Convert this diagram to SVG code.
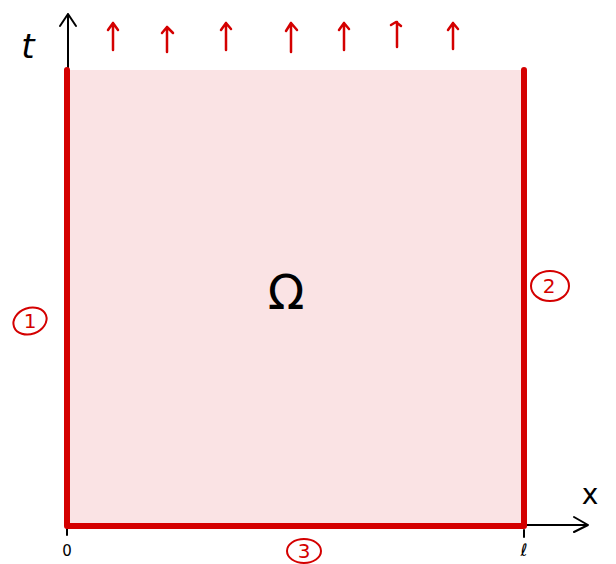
<svg xmlns="http://www.w3.org/2000/svg" width="616" height="564" viewBox="0 0 616 564">
<style>
.red{stroke:#d40000;fill:none;stroke-linecap:round;stroke-linejoin:round}
.blk{stroke:#000;fill:none;stroke-width:2;stroke-linecap:round;stroke-linejoin:round}
.lbl{font-family:"DejaVu Sans",sans-serif;fill:#000}
.rlbl{font-family:"DejaVu Sans",sans-serif;fill:#d40000;font-size:20px;text-anchor:middle}
</style>
<rect id="domain" x="67" y="70" width="457" height="456" fill="#fae3e4"/>
<g id="axes">
<path class="blk" d="M68 70 V14 M60 26 L68 14 L76 26"/>
<path class="blk" d="M524 525 H588 M574 517 L588 525 L574 532"/>
<path class="blk" d="M67 529 V535 M524 530 V537"/>
</g>
<g id="boundary">
<path class="red" stroke-width="6" d="M67 70 V526 H524 V70"/>
</g>
<g id="top-arrows" class="red" stroke-width="2.5">
<path d="M113 50 V23 M108 30 L113 23 L118 30"/>
<path d="M167 52 V27 M162 33 L167 27 L173 33"/>
<path d="M226 50 V23 M221 30 L226 23 L231 29"/>
<path d="M291 52 V23 M286 31 L291 23 L297 30"/>
<path d="M344 50 V23 M339 30 L344 23 L349 29"/>
<path d="M397 47 V22 M391 25 L396 22 L401 26"/>
<path d="M453 49 V23 M448 30 L453 23 L458 29"/>
</g>
<g id="labels">
<text class="lbl" x="28" y="58" font-size="34" font-style="italic" text-anchor="middle">t</text>
<text class="lbl" x="590" y="504" font-size="28" text-anchor="middle">x</text>
<text class="lbl" x="286" y="309" font-size="48" text-anchor="middle">Ω</text>
<text class="lbl" x="67" y="556" font-size="15" text-anchor="middle">0</text>
<text class="lbl" x="524" y="556" font-size="17" font-style="italic" text-anchor="middle">ℓ</text>
</g>
<g id="bc1">
<ellipse class="red" stroke-width="2" cx="30" cy="321" rx="17" ry="13" transform="rotate(-20 30 321)"/>
<text class="rlbl" x="30" y="328">1</text>
</g>
<g id="bc2">
<ellipse class="red" stroke-width="2" cx="550" cy="286" rx="19" ry="15"/>
<text class="rlbl" x="549" y="293">2</text>
</g>
<g id="bc3">
<ellipse class="red" stroke-width="2" cx="304" cy="551" rx="17" ry="12"/>
<text class="rlbl" x="304" y="558">3</text>
</g>
</svg>
